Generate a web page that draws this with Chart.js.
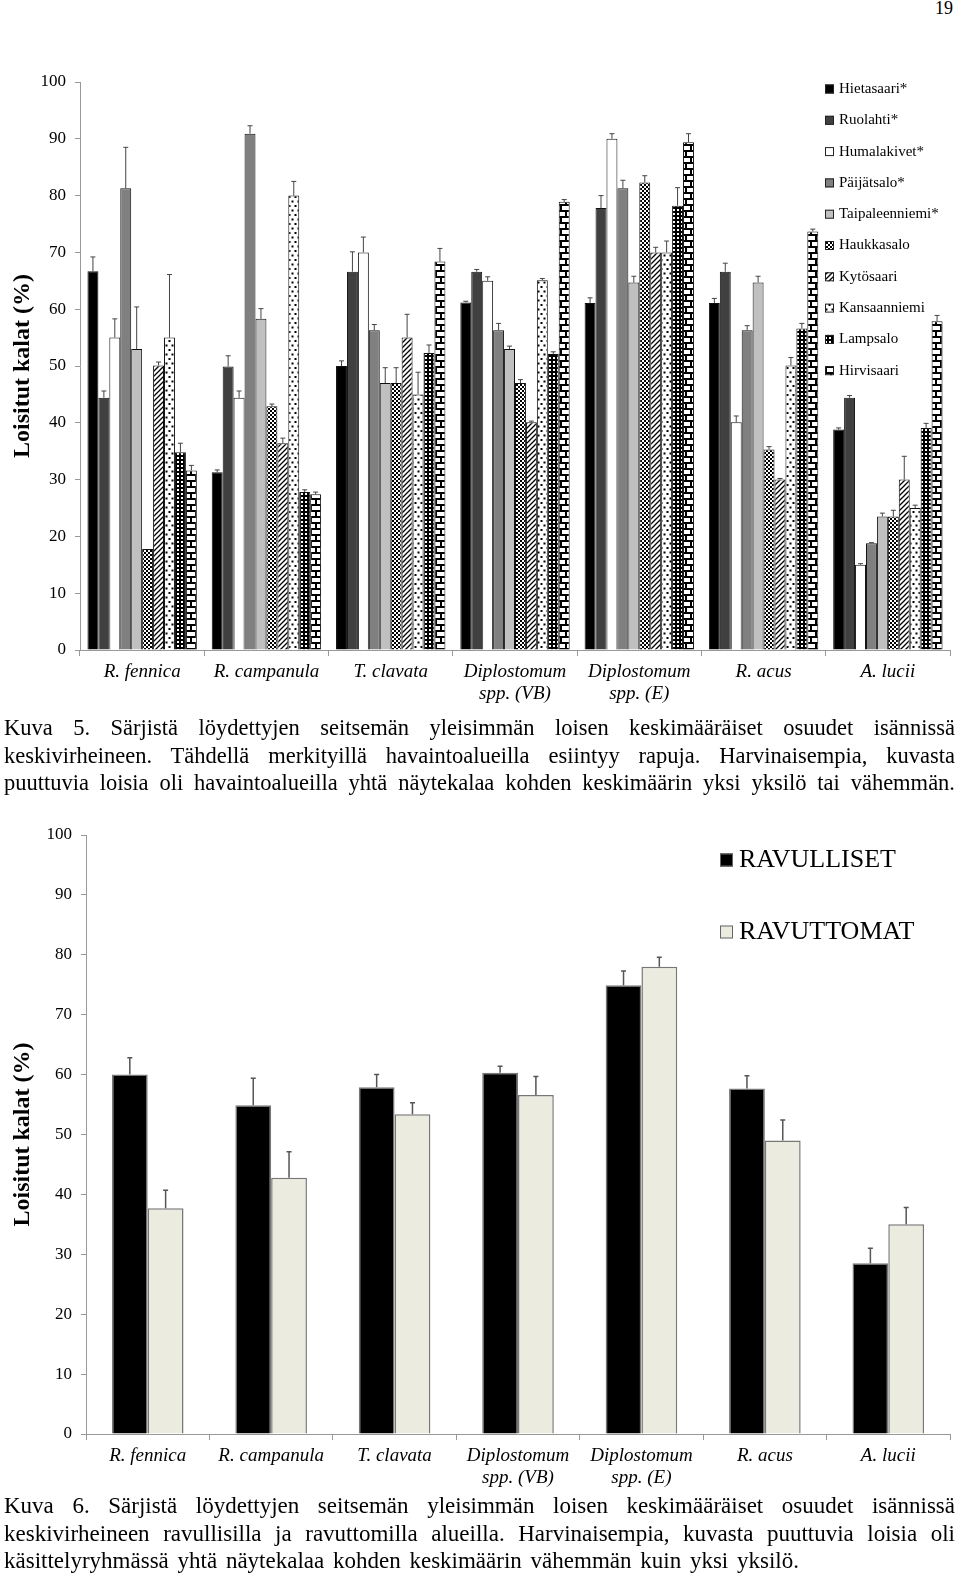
<!DOCTYPE html>
<html>
<head>
<meta charset="utf-8">
<script src="https://cdn.jsdelivr.net/npm/chart.js@4.4.0/dist/chart.umd.min.js"></script>
<style>
  html, body { margin: 0; padding: 0; background: #fff; }
  body { width: 960px; height: 1574px; position: relative; overflow: hidden; font-family: "Liberation Serif", "Times New Roman", serif; color: #000; }
  canvas { position: absolute; left: 0; }
  #chart1 { top: 60px; }
  #chart2 { top: 810px; }
  .page { position: absolute; top: -2px; left: 935px; font-size: 18px; }
  .cap { position: absolute; left: 4px; width: 951px; white-space: nowrap; }
  .cap div { height: 27.5px; line-height: 27.5px; text-align: justify; text-align-last: justify; }
  .cap div.last { text-align-last: left; word-spacing: 3px; }
  #cap1 { top: 714px; font-size: 22.5px; }
  #cap2 { top: 1492px; font-size: 23px; }
</style>
</head>
<body>
<div class="page">19</div>
<canvas id="chart1" width="960" height="660"></canvas>
<div class="cap" id="cap1">
  <div>Kuva 5. Särjistä löydettyjen seitsemän yleisimmän loisen keskimääräiset osuudet isännissä</div>
  <div>keskivirheineen. Tähdellä merkityillä havaintoalueilla esiintyy rapuja. Harvinaisempia, kuvasta</div>
  <div>puuttuvia loisia oli havaintoalueilla yhtä näytekalaa kohden keskimäärin yksi yksilö tai vähemmän.</div>
</div>
<canvas id="chart2" width="960" height="690"></canvas>
<div class="cap" id="cap2">
  <div>Kuva 6. Särjistä löydettyjen seitsemän yleisimmän loisen keskimääräiset osuudet isännissä</div>
  <div>keskivirheineen ravullisilla ja ravuttomilla alueilla. Harvinaisempia, kuvasta puuttuvia loisia oli</div>
  <div class="last">käsittelyryhmässä yhtä näytekalaa kohden keskimäärin vähemmän kuin yksi yksilö.</div>
</div>
<script>
const FONT = '"Liberation Serif", "Times New Roman", serif';

// categories (parasites)
const parasites = [
  'R. fennica', 'R. campanula', 'T. clavata',
  ['Diplostomum', 'spp. (VB)'], ['Diplostomum', 'spp. (E)'],
  'R. acus', 'A. lucii'
];
const yTicks = [0, 10, 20, 30, 40, 50, 60, 70, 80, 90, 100];

// Kuva 5: share of infected fish (%) per site, and standard errors
const sites = ['Hietasaari*', 'Ruolahti*', 'Humalakivet*', 'Päijätsalo*', 'Taipaleenniemi*',
               'Haukkasalo', 'Kytösaari', 'Kansaanniemi', 'Lampsalo', 'Hirvisaari'];
const hietasaari     = [66.7, 31.3, 50.0, 61.2, 61.1, 61.1, 38.8];
const ruolahti       = [44.4, 49.9, 66.6, 66.6, 77.8, 66.6, 44.4];
const humalakivet    = [55.0, 44.4, 70.0, 65.0, 90.0, 40.1, 15.0];
const paijatsalo     = [81.3, 90.9, 56.3, 56.3, 81.3, 56.3, 18.8];
const taipaleenniemi = [53.0, 58.3, 47.0, 53.0, 64.7, 64.7, 23.5];
const haukkasalo     = [17.8, 42.9, 47.0, 47.0, 82.3, 35.3, 23.5];
const kytosaari      = [50.1, 36.4, 55.0, 40.1, 70.0, 30.0, 30.0];
const kansaanniemi   = [55.0, 80.0, 45.0, 65.1, 70.0, 50.1, 25.0];
const lampsalo       = [34.8, 27.8, 52.3, 52.1, 78.2, 56.6, 39.1];
const hirvisaari     = [31.6, 27.4, 68.4, 78.9, 89.4, 73.7, 57.9];

const seHietasaari     = [2.5, 0.4, 0.9, 0.2, 0.9, 0.8, 0.3];
const seRuolahti       = [1.2, 1.9, 3.5, 0.4, 2.2, 1.5, 0.4];
const seHumalakivet    = [3.3, 1.2, 2.7, 0.7, 0.9, 1.1, 0.2];
const sePaijatsalo     = [7.2, 1.4, 1.0, 1.2, 1.4, 0.8, 0.1];
const seTaipaleenniemi = [7.4, 1.8, 2.7, 0.5, 1.1, 1.1, 0.6];
const seHaukkasalo     = [0.0, 0.4, 2.7, 0.6, 1.2, 0.5, 1.1];
const seKytosaari      = [0.6, 0.9, 4.1, 0.2, 0.9, 0.2, 4.1];
const seKansaanniemi   = [11.1, 2.5, 3.9, 0.3, 2.0, 1.4, 0.5];
const seLampsalo       = [1.6, 0.4, 1.4, 0.4, 3.2, 0.9, 0.8];
const seHirvisaari     = [0.9, 0.4, 2.3, 0.4, 1.5, 0.4, 1.0];

// Kuva 6: crayfish vs no crayfish
const groups = ['RAVULLISET', 'RAVUTTOMAT'];
const ravulliset   = [60.0, 54.9, 57.9, 60.3, 74.9, 57.7, 28.5];
const ravuttomat   = [37.7, 42.8, 53.4, 56.6, 78.0, 49.0, 35.0];
const seRavulliset = [2.8, 4.5, 2.1, 1.1, 2.4, 2.1, 2.5];
const seRavuttomat = [3.0, 4.3, 1.9, 3.1, 1.6, 3.4, 2.8];

// fill patterns for the hatched sites
function makePattern(w, h, draw) {
  const c = document.createElement('canvas');
  c.width = w; c.height = h;
  const g = c.getContext('2d');
  g.fillStyle = '#fff';
  g.fillRect(0, 0, w, h);
  g.fillStyle = '#000';
  g.strokeStyle = '#000';
  draw(g);
  return g.createPattern(c, 'repeat');
}
const checker = makePattern(4, 4, g => { g.fillRect(0, 0, 2, 2); g.fillRect(2, 2, 2, 2); });
const diagonal = makePattern(5, 5, g => {
  g.lineWidth = 1.3;
  g.beginPath();
  g.moveTo(0, 5); g.lineTo(5, 0);
  g.moveTo(-1, 1); g.lineTo(1, -1);
  g.moveTo(4, 6); g.lineTo(6, 4);
  g.stroke();
});
const dots = makePattern(6, 9, g => { g.fillRect(0.5, 1, 2, 2); g.fillRect(3.5, 5.5, 2, 2); });
const grid = makePattern(4, 4, g => { g.fillRect(0, 0, 4, 4); g.fillStyle = '#fff'; g.fillRect(1, 1, 2, 2); });
const brick = makePattern(10, 12, g => {
  g.fillRect(0, 0, 10, 2);
  g.fillRect(0, 6, 10, 2);
  g.fillRect(0, 2, 2, 4);
  g.fillRect(5, 8, 2, 4);
});

const siteValues = [hietasaari, ruolahti, humalakivet, paijatsalo, taipaleenniemi,
                    haukkasalo, kytosaari, kansaanniemi, lampsalo, hirvisaari];
const siteErrors = [seHietasaari, seRuolahti, seHumalakivet, sePaijatsalo, seTaipaleenniemi,
                    seHaukkasalo, seKytosaari, seKansaanniemi, seLampsalo, seHirvisaari];
const siteFills = ['#000000', '#404040', '#ffffff', '#808080', '#c0c0c0',
                   checker, diagonal, dots, grid, brick];

// error bars drawn from the y scale
const errorBars = {
  id: 'errorBars',
  afterDatasetsDraw(chart, args, opts) {
    const ctx = chart.ctx;
    const yScale = chart.scales.y;
    ctx.save();
    ctx.strokeStyle = opts.color;
    ctx.lineWidth = opts.width;
    chart.data.datasets.forEach((ds, i) => {
      chart.getDatasetMeta(i).data.forEach((bar, j) => {
        const se = ds.errors[j];
        if (!se) return;
        const yTop = yScale.getPixelForValue(ds.data[j] + se);
        ctx.beginPath();
        ctx.moveTo(bar.x, bar.y);
        ctx.lineTo(bar.x, yTop);
        ctx.moveTo(bar.x - opts.cap, yTop);
        ctx.lineTo(bar.x + opts.cap, yTop);
        ctx.stroke();
      });
    });
    ctx.restore();
  }
};

// legend placed inside the plot, like in the original
const boxLegend = {
  id: 'boxLegend',
  afterDraw(chart, args, opts) {
    const ctx = chart.ctx;
    ctx.save();
    ctx.font = opts.size + 'px ' + FONT;
    ctx.textBaseline = 'middle';
    chart.data.datasets.forEach((ds, i) => {
      const y = opts.y + i * opts.step;
      ctx.fillStyle = ds.backgroundColor;
      ctx.fillRect(opts.x, y - opts.box / 2, opts.box, opts.box);
      ctx.strokeStyle = opts.border;
      ctx.lineWidth = 1;
      ctx.strokeRect(opts.x + 0.5, y - opts.box / 2 + 0.5, opts.box - 1, opts.box - 1);
      ctx.fillStyle = '#000';
      ctx.fillText(ds.label, opts.x + opts.box + opts.gap, y);
    });
    ctx.restore();
  }
};

function axes(yWidth, xHeight) {
  return {
    x: {
      grid: { offset: true, drawOnChartArea: false, tickLength: 6, color: '#999' },
      border: { color: '#999' },
      ticks: { color: '#000', padding: 5, maxRotation: 0, autoSkip: false,
               font: { family: FONT, size: 19, style: 'italic', lineHeight: 1.15 } },
      afterFit: s => { s.height = xHeight; }
    },
    y: {
      min: 0, max: 100,
      afterBuildTicks: s => { s.ticks = yTicks.map(v => ({ value: v })); },
      grid: { drawOnChartArea: false, tickLength: 5, color: '#999' },
      border: { color: '#999' },
      ticks: { color: '#000', padding: 9, font: { family: FONT, size: 17 } },
      title: { display: true, text: 'Loisitut kalat (%)', color: '#000',
               font: { family: FONT, size: 24, weight: 'bold' }, padding: { top: 8, bottom: 0 } },
      afterFit: s => { s.width = yWidth; }
    }
  };
}

new Chart(document.getElementById('chart1'), {
  type: 'bar',
  data: {
    labels: parasites,
    datasets: sites.map((name, i) => ({
      label: name,
      data: siteValues[i],
      errors: siteErrors[i],
      backgroundColor: siteFills[i],
      borderColor: '#111',
      borderWidth: 1,
      categoryPercentage: 0.88,
      barPercentage: 1.0
    }))
  },
  options: {
    responsive: false,
    animation: false,
    layout: { padding: { top: 22, right: 10, left: 0, bottom: 0 } },
    plugins: {
      legend: { display: false },
      tooltip: { enabled: false },
      errorBars: { color: '#444', width: 1, cap: 2.5 },
      boxLegend: { x: 825, y: 29, step: 31.3, box: 9, gap: 5, size: 15, border: '#222' }
    },
    scales: axes(80, 70)
  },
  plugins: [errorBars, boxLegend]
});

new Chart(document.getElementById('chart2'), {
  type: 'bar',
  data: {
    labels: parasites,
    datasets: [
      { label: groups[0], data: ravulliset, errors: seRavulliset, backgroundColor: '#000000' },
      { label: groups[1], data: ravuttomat, errors: seRavuttomat, backgroundColor: '#ecebe0' }
    ].map(d => Object.assign(d, { borderColor: '#777', borderWidth: 1.5, categoryPercentage: 0.58, barPercentage: 1.0 }))
  },
  options: {
    responsive: false,
    animation: false,
    layout: { padding: { top: 25, right: 10, left: 0, bottom: 0 } },
    plugins: {
      legend: { display: false },
      tooltip: { enabled: false },
      errorBars: { color: '#555', width: 1.5, cap: 2.5 },
      boxLegend: { x: 720, y: 50, step: 72, box: 13, gap: 6, size: 26, border: '#666' }
    },
    scales: axes(86, 66)
  },
  plugins: [errorBars, boxLegend]
});
</script>
</body>
</html>
